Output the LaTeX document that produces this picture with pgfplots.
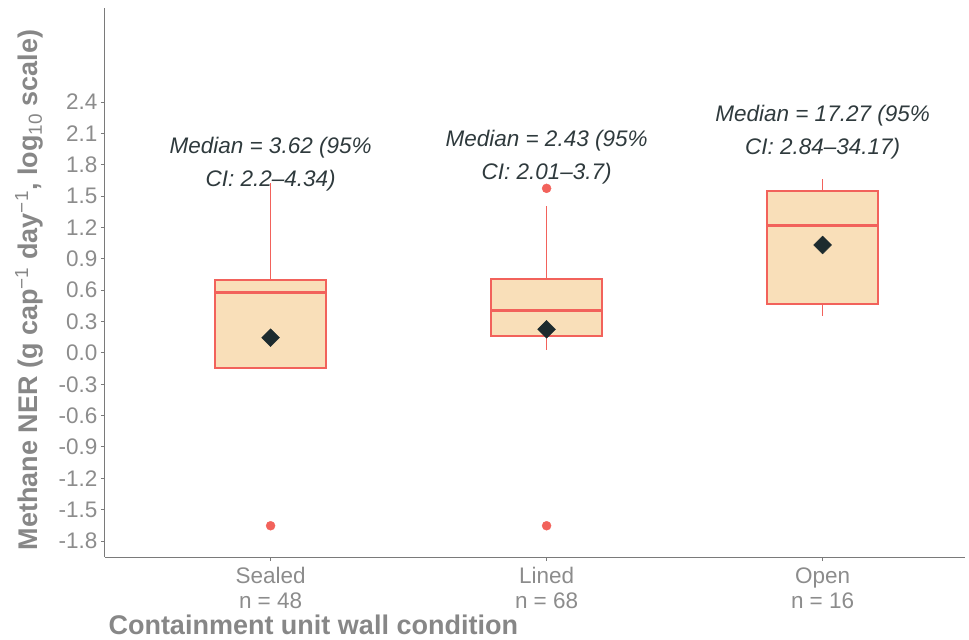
\documentclass[border=0pt]{standalone}
\usepackage{fontspec}
\setmainfont{Liberation Sans}
\usepackage{pgfplots}
\pgfplotsset{compat=1.18}
\usepgfplotslibrary{statistics}
\definecolor{boxfill}{HTML}{F9DFB9}
\definecolor{boxedge}{HTML}{F2625B}
\definecolor{outl}{HTML}{F2625B}
\definecolor{meanc}{HTML}{1D2B2E}
\definecolor{anntext}{HTML}{2F3A3D}
\definecolor{ticktext}{HTML}{8C8C8C}
\definecolor{titletext}{HTML}{878787}
\definecolor{axline}{HTML}{7A7A7A}
\pgfplotsset{
  mybox/.style={draw=boxedge, fill=boxfill, line width=1.8bp,
    /pgfplots/boxplot/every box/.style={line width=1.8bp},
    /pgfplots/boxplot/every median/.style={line width=3.2bp}},
  whisk/.style={draw=boxedge, line width=1.8bp, no marks},
}
\begin{document}
\begin{tikzpicture}
\useasboundingbox (-105bp,-83bp) rectangle (864bp,557bp);
\begin{axis}[
  at={(0,0)}, anchor=south west,
  scale only axis, width=860bp, height=549bp,
  xmin=0.4, xmax=3.516, ymin=-1.953, ymax=3.301,
  axis x line*=bottom, axis y line*=left,
  axis line style={axline, line width=1bp, -},
  tick align=outside, major tick length=4bp,
  tick style={axline, line width=1bp},
  xtick={1,2,3},
  xticklabels={{Sealed\\n = 48},{Lined\\n = 68},{Open\\n = 16}},
  xticklabel style={align=center, font=\fontsize{22.5bp}{25bp}\selectfont, text=ticktext, yshift=-3bp},
  ytick={-1.8,-1.5,-1.2,-0.9,-0.6,-0.3,0,0.3,0.6,0.9,1.2,1.5,1.8,2.1,2.4},
  yticklabels={-1.8,-1.5,-1.2,-0.9,-0.6,-0.3,0.0,0.3,0.6,0.9,1.2,1.5,1.8,2.1,2.4},
  yticklabel style={font=\fontsize{22.5bp}{25bp}\selectfont, text=ticktext},
  boxplot/draw direction=y,
  clip=false,
]
% whiskers
\addplot[whisk] coordinates {(1,0.695) (1,1.629)};
\addplot[whisk] coordinates {(2,0.707) (2,1.406)};
\addplot[whisk] coordinates {(2,0.165) (2,0.028)};
\addplot[whisk] coordinates {(3,1.552) (3,1.664)};
\addplot[whisk] coordinates {(3,0.465) (3,0.353)};
% boxes
\addplot[mybox, boxplot prepared={draw position=1, median=0.58, upper quartile=0.695,
    lower quartile=-0.145, upper whisker=1.629, lower whisker=-0.145,
    box extend=0.4, whisker extend=0}] coordinates {};
\addplot[mybox, boxplot prepared={draw position=2, median=0.408, upper quartile=0.707,
    lower quartile=0.165, upper whisker=1.406, lower whisker=0.028,
    box extend=0.4, whisker extend=0}] coordinates {};
\addplot[mybox, boxplot prepared={draw position=3, median=1.221, upper quartile=1.552,
    lower quartile=0.465, upper whisker=1.664, lower whisker=0.353,
    box extend=0.4, whisker extend=0}] coordinates {};
\addplot[only marks, mark=*, mark size=4.5bp, color=outl]
  coordinates {(1,-1.654) (2,1.575) (2,-1.654)};
\addplot[only marks, mark=square*, mark size=6.3bp, mark options={rotate=45}, color=meanc]
  coordinates {(1,0.146) (2,0.226) (3,1.033)};
\node[align=center, font=\fontsize{22.5bp}{33bp}\selectfont\itshape, text=anntext]
  at (axis cs:1,1.811) {Median = 3.62 (95\%\\CI: 2.2–4.34)};
\node[align=center, font=\fontsize{22.5bp}{33bp}\selectfont\itshape, text=anntext]
  at (axis cs:2,1.875) {Median = 2.43 (95\%\\CI: 2.01–3.7)};
\node[align=center, font=\fontsize{22.5bp}{33bp}\selectfont\itshape, text=anntext]
  at (axis cs:3,2.111) {Median = 17.27 (95\%\\CI: 2.84–34.17)};
\end{axis}
\node[rotate=90, font=\fontsize{27bp}{32bp}\selectfont\bfseries, text=titletext]
  at (-76bp,267bp) {Methane NER (g cap\textsuperscript{\mdseries −1} day\textsuperscript{\mdseries −1}, log\textsubscript{\mdseries 10} scale)};
\node[anchor=base west, font=\fontsize{27bp}{32bp}\selectfont\bfseries, text=titletext]
  at (0bp,-77bp) {Containment unit wall condition};
\end{tikzpicture}
\end{document}
